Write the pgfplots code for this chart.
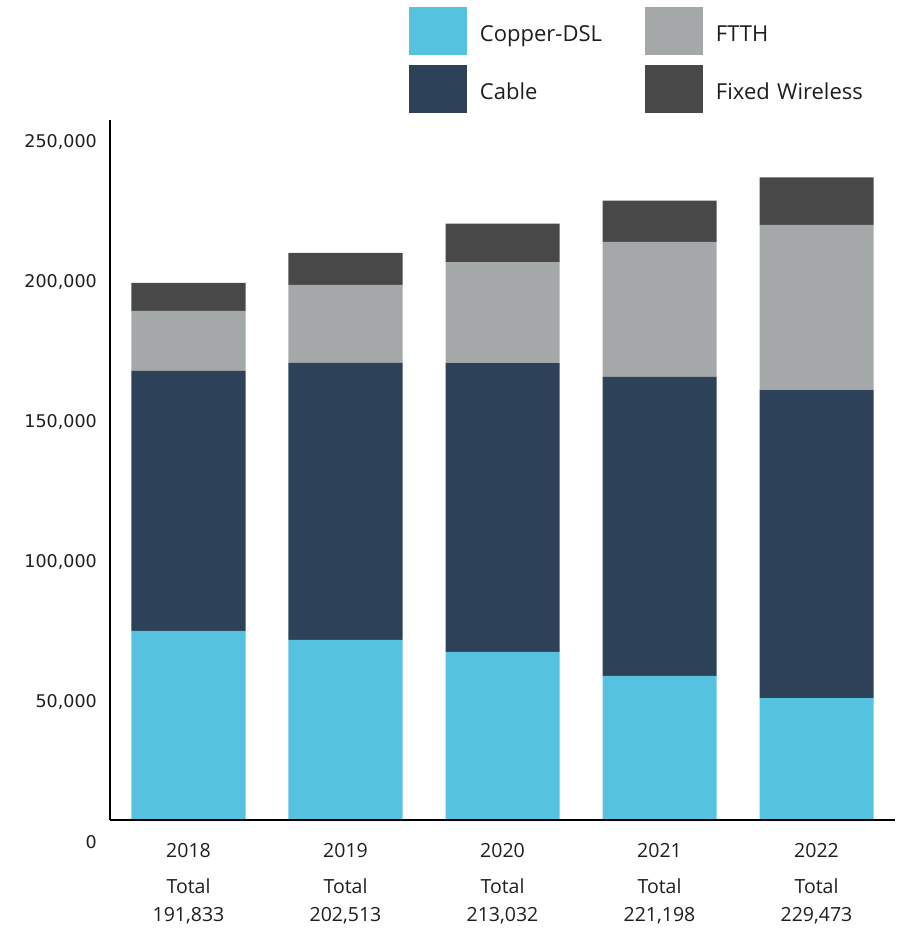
\documentclass[border=0pt]{standalone}
\usepackage{fontspec}
\setmainfont{Open Sans}
\newfontfamily\dejavu{DejaVu Sans}
\usepackage{pgfplots}
\pgfplotsset{compat=1.18}
\definecolor{dsl}{HTML}{55C2E0}
\definecolor{cable}{HTML}{2D4159}
\definecolor{ftth}{HTML}{A4A8A9}
\definecolor{fw}{HTML}{484848}
\definecolor{txt}{HTML}{1E1E1E}
\pgfplotsset{sq/.style={legend image code/.code={\fill[##1] (0pt,-24pt) rectangle (58pt,24pt);}}}
\begin{document}
\begin{tikzpicture}
\useasboundingbox (-110pt,-109pt) rectangle (792pt,820pt);
\begin{axis}[
  scale only axis, width=785pt, height=700pt,
  ybar stacked, bar width=114pt,
  xmin=-0.5, xmax=4.5, ymin=0, ymax=250000,
  axis lines=left, axis line style={-, line width=2pt, black},
  axis on top,
  xtick={0,1,2,3,4},
  xticklabels={{2018\\[8pt]Total\\191,833},{2019\\[8pt]Total\\202,513},{2020\\[8pt]Total\\213,032},{2021\\[8pt]Total\\221,198},{2022\\[8pt]Total\\229,473}},
  ytick={0,50000,100000,150000,200000,250000},
  scaled y ticks=false,
  major tick length=0pt, tick style={draw=none},
  /pgf/number format/fixed,
  /pgf/number format/1000 sep={,},
  /pgf/number format/assume math mode=true,
  yticklabel style={font=\dejavu\fontsize{17.5}{20}\selectfont, text=txt, anchor=east, inner sep=0pt, xshift=-13pt, yshift=-22pt},
  xticklabel style={font=\fontsize{19.5}{28}\selectfont, text=txt, align=center, anchor=north, inner sep=0pt, yshift=-23pt},
  legend columns=2, transpose legend, legend cell align=left,
  legend style={at={(axis description cs:0.38089,1.16143)}, anchor=north west,
    draw=none, fill=none, inner sep=0pt, outer sep=0pt, row sep=10pt,
    font=\fontsize{22}{26}\selectfont, text=txt,
    nodes={inner sep=0pt, anchor=west, text width=165pt, text height=21pt, text depth=0pt},
    /tikz/every odd column/.append style={column sep=13pt}},
]
\addplot[fill=dsl, draw=none, sq] coordinates {(0,67500) (1,64290) (2,60000) (3,51430) (4,43570)};
\addlegendentry{Copper-DSL}
\addplot[fill=cable, draw=none, sq] coordinates {(0,92860) (1,98930) (2,103210) (3,106790) (4,110000)};
\addlegendentry{Cable}
\addplot[fill=ftth, draw=none, sq] coordinates {(0,21430) (1,27860) (2,36070) (3,48210) (4,58930)};
\addlegendentry{FTTH}
\addplot[fill=fw, draw=none, sq] coordinates {(0,10043) (1,11443) (2,13742) (3,14768) (4,16973)};
\addlegendentry{Fixed Wireless}
\end{axis}
\end{tikzpicture}
\end{document}
